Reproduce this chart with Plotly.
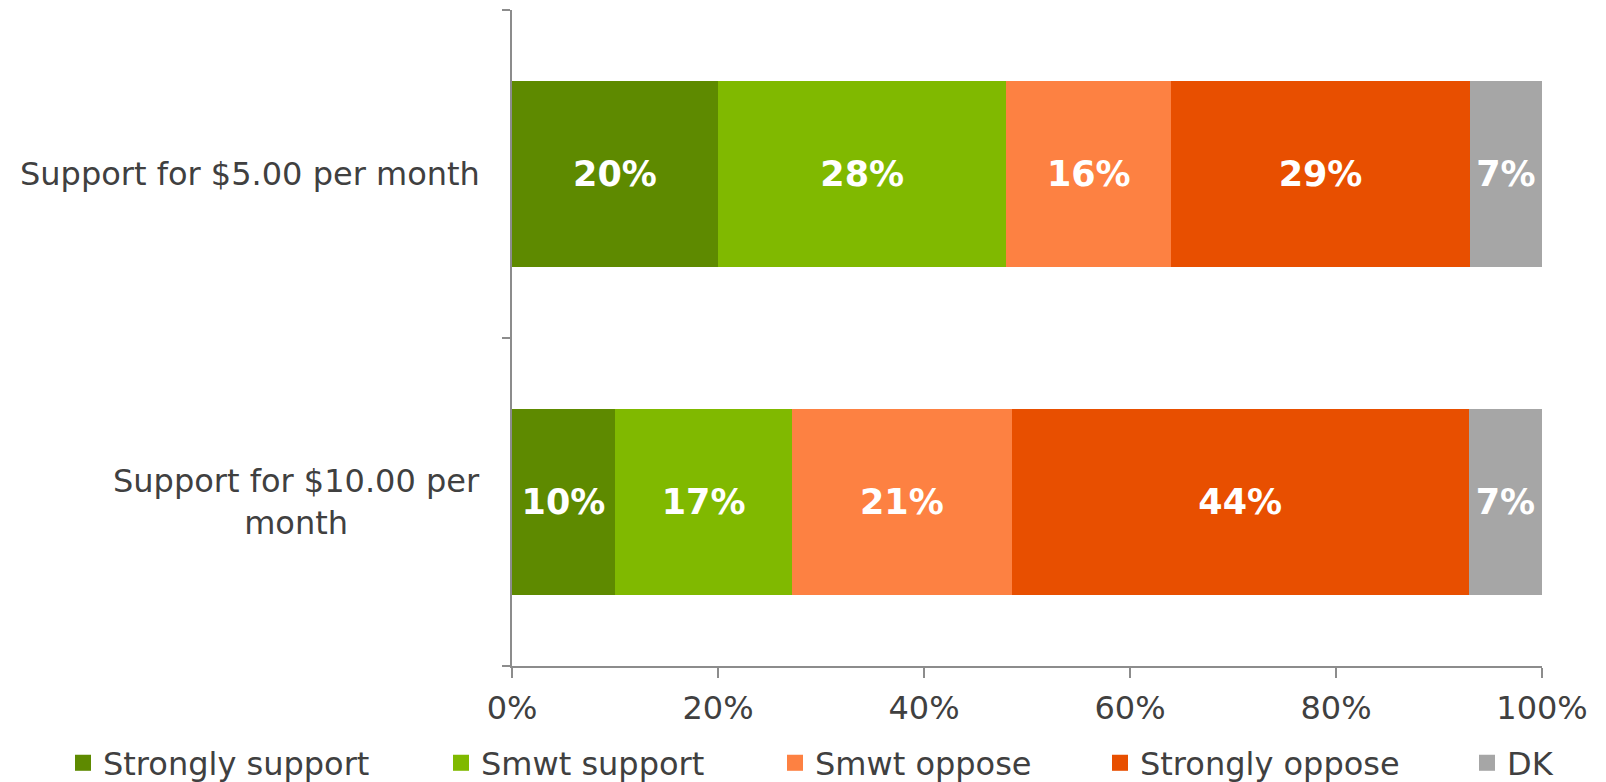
import plotly.graph_objects as go

categories = ["Support for $5.00 per month", "Support for $10.00 per month"]
category_labels = ["Support for $5.00 per month", "Support for $10.00 per<br>month"]
series_names = ["Strongly support", "Smwt support", "Smwt oppose", "Strongly oppose", "DK"]
strongly_support = [20.0, 10.0]
smwt_support = [28.0, 17.2]
smwt_oppose = [16.0, 21.3]
strongly_oppose = [29.0, 44.4]
dk = [7.0, 7.1]
colors = ["#5E8A00", "#80B900", "#FD8142", "#E84F00", "#A6A6A6"]
x_ticks = [0, 20, 40, 60, 80, 100]
x_tick_labels = ["0%", "20%", "40%", "60%", "80%", "100%"]

series_values = [strongly_support, smwt_support, smwt_oppose, strongly_oppose, dk]

FONT = "DejaVu Sans"
TXT = "#404040"
AXC = "#8C8C8C"
# the page body has an 8px margin, so the figure is drawn 8px smaller
W, H = 1598, 774

legend_ids = ["legend", "legend2", "legend3", "legend4", "legend5"]
legend_px = [55, 433, 767, 1092, 1459]  # left edge of each legend box, px

fig = go.Figure()
for name, vals, col, lid in zip(series_names, series_values, colors, legend_ids):
    fig.add_trace(go.Bar(
        y=categories, x=vals, name=name, orientation="h",
        marker=dict(color=col, line=dict(width=0)),
        text=[f"{round(v)}%" for v in vals],
        textposition="inside", insidetextanchor="middle",
        textfont=dict(family=FONT, size=35, color="white", weight="bold"),
        showlegend=False, legendgroup=name,
    ))
    # legend-only entry with a larger square swatch
    fig.add_trace(go.Scatter(
        x=[None], y=[None], mode="markers", name=name,
        marker=dict(symbol="square", size=16, color=col, line=dict(width=0)),
        legend=lid, legendgroup=name, hoverinfo="skip",
    ))

for cat, lab in zip(categories, category_labels):
    fig.add_annotation(
        x=-0.029, xref="paper", y=cat, yref="y",
        text=lab, showarrow=False, xanchor="right", yanchor="middle",
        align="center", font=dict(family=FONT, size=32, color=TXT),
    )

legend_layout = {}
for lid, px in zip(legend_ids, legend_px):
    legend_layout[lid] = dict(
        xref="container", yref="container",
        x=px / W, xanchor="left", y=(H - 755) / H, yanchor="middle",
        font=dict(family=FONT, size=32, color=TXT),
        bgcolor="rgba(0,0,0,0)", itemwidth=30, itemsizing="trace",
    )

fig.update_layout(
    barmode="stack",
    bargap=0.43,
    width=W, height=H,
    margin=dict(l=504, r=64, t=2, b=116, autoexpand=False),
    paper_bgcolor="white", plot_bgcolor="white",
    font=dict(family=FONT, size=32, color=TXT),
    showlegend=True,
    xaxis=dict(
        range=[0, 100], tickvals=x_ticks, ticktext=x_tick_labels,
        showgrid=False, zeroline=False,
        showline=True, linecolor=AXC, linewidth=1.5,
        ticks="outside", ticklen=10, tickcolor=AXC, tickwidth=1.5,
        ticklabelstandoff=3,
        tickfont=dict(family=FONT, size=32, color=TXT),
        fixedrange=True,
    ),
    yaxis=dict(
        categoryorder="array", categoryarray=categories[::-1],
        showticklabels=False,
        showgrid=False, zeroline=False,
        showline=True, linecolor=AXC, linewidth=1.5,
        ticks="outside", ticklen=8, tickcolor=AXC, tickwidth=1.5,
        tickson="boundaries",
        fixedrange=True,
    ),
    **legend_layout,
)

fig.write_html("out.html")
